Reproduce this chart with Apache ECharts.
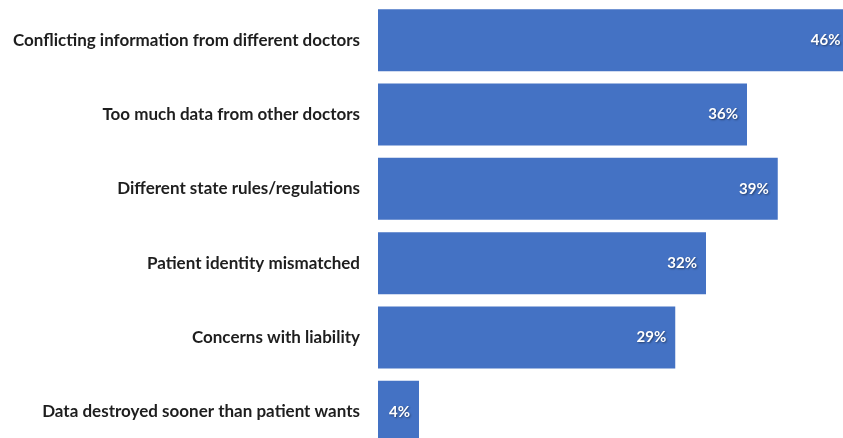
<!DOCTYPE html>
<html>
<head>
<meta charset="utf-8">
<script src="https://cdn.jsdelivr.net/npm/echarts@6/dist/echarts.min.js"></script>
<style>
html,body{margin:0;padding:0;background:#fff;overflow:hidden;}
#chart{width:900px;height:460px;}
</style>
</head>
<body>
<div id="chart"></div>
<script>
const categories = [
  "Conflicting information from different doctors",
  "Too much data from other doctors",
  "Different state rules/regulations",
  "Patient identity mismatched",
  "Concerns with liability",
  "Data destroyed sooner than patient wants"
];
const values = [46, 36, 39, 32, 29, 4];

const chart = echarts.init(document.getElementById('chart'), null, {renderer: 'canvas'});
chart.setOption({
  animation: false,
  backgroundColor: '#ffffff',
  grid: { left: 378, top: 3, width: 512.5, height: 446, containLabel: false },
  xAxis: {
    type: 'value', min: 0, max: 50, show: false
  },
  yAxis: {
    type: 'category',
    data: categories,
    inverse: true,
    axisLine: { show: false },
    axisTick: { show: false },
    axisLabel: {
      margin: 18,
      fontFamily: 'Lato',
      fontWeight: 'bold',
      fontSize: 17,
      color: '#1e1e1e'
    }
  },
  series: [{
    type: 'bar',
    data: values,
    barCategoryGap: '16.5%',
    itemStyle: { color: '#4472C4' },
    label: {
      show: true,
      position: 'insideRight',
      distance: 9,
      formatter: '{c}%',
      color: '#ffffff',
      fontFamily: 'Lato',
      fontWeight: 'bold',
      fontSize: 15,
      textShadowColor: 'rgba(0,0,0,0.45)',
      textShadowBlur: 2,
      textShadowOffsetX: 1,
      textShadowOffsetY: 1
    }
  }]
});
</script>
</body>
</html>
